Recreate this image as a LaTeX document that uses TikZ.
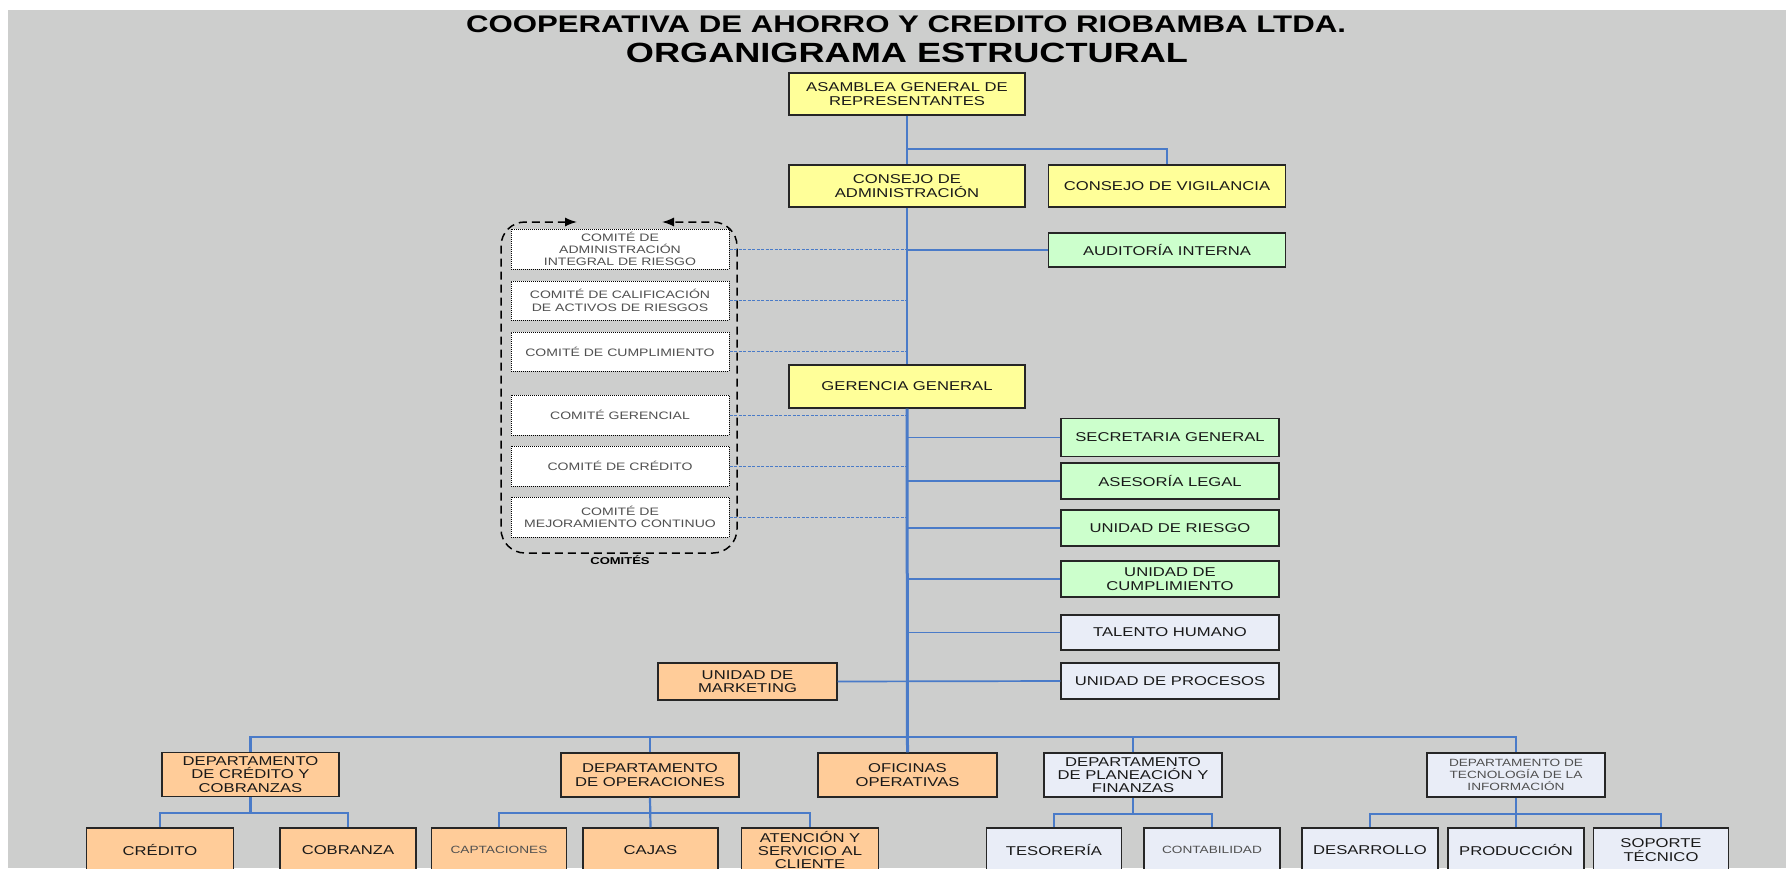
\documentclass[tikz,border=0pt]{standalone}
\usepackage{fontspec}
\setmainfont{Liberation Sans}[FakeStretch=1.3]
\usetikzlibrary{arrows.meta}

\definecolor{bggray}{RGB}{205,206,205}
\definecolor{boxyellow}{RGB}{255,255,153}
\definecolor{boxgreen}{RGB}{204,255,204}
\definecolor{boxlilac}{RGB}{233,237,247}
\definecolor{boxorange}{RGB}{255,204,153}
\definecolor{linkblue}{RGB}{74,123,200}
\definecolor{txtgray}{RGB}{80,80,80}

\tikzset{
  unit/.style={draw=black!85, line width=1.2pt, align=center, inner sep=1pt,
    font=\fontsize{12.8}{13.3}\selectfont, text=black!90},
  dims/.style 2 args={minimum width=#1pt, minimum height=#2pt},
  yellowunit/.style={unit, fill=boxyellow},
  greenunit/.style={unit, fill=boxgreen},
  lilacunit/.style={unit, fill=boxlilac},
  orangeunit/.style={unit, fill=boxorange},
  smalltxt/.style={font=\fontsize{10.5}{12}\selectfont, text=txtgray},
  comite/.style={draw=black, line width=1pt, dash pattern=on 1pt off 1pt,
    fill=white, align=center, inner sep=1pt, minimum width=218pt,
    font=\fontsize{10.8}{12.3}\selectfont, text=txtgray},
  link/.style={draw=linkblue, line width=1.7pt},
  buslink/.style={draw=linkblue, line width=2.2pt},
  comlink/.style={draw=linkblue, line width=1pt, dash pattern=on 3pt off 1.5pt},
}

\begin{document}
\begin{tikzpicture}[x=1pt, y=-1pt]
        % Page and background
        \useasboundingbox (0,0) rectangle (1786,868);
        \clip (0,0) rectangle (1786,868);
        \fill[white] (0,0) rectangle (1786,868);
        \fill[bggray] (8,10) rectangle (1786,868);

        % Titles
        \node[font=\bfseries\fontsize{24}{26}\selectfont] (title1) at (906,24)
          {COOPERATIVA DE AHORRO Y CREDITO RIOBAMBA LTDA.};
        \node[font=\bfseries\fontsize{27.8}{30}\selectfont] (title2) at (907,53)
          {ORGANIGRAMA ESTRUCTURAL};

        % Governing bodies
        \node[yellowunit, dims={236}{42}] (asamblea) at (907,94) {ASAMBLEA GENERAL DE\\REPRESENTANTES};
        \node[yellowunit, dims={236}{42}] (consAdm) at (907,186) {CONSEJO DE\\ADMINISTRACIÓN};
        \node[yellowunit, dims={237}{42}] (consVig) at (1167,186) {CONSEJO DE VIGILANCIA};
        \node[greenunit, dims={237}{34}] (auditoria) at (1167,250) {AUDITORÍA INTERNA};
        \node[yellowunit, dims={236}{43}] (gerencia) at (907,386.5) {GERENCIA GENERAL};

        % Staff units
        \node[greenunit, dims={218}{38}] (secretaria) at (1170,437.5) {SECRETARIA GENERAL};
        \node[greenunit, dims={218}{36}] (asesoria) at (1170,481) {ASESORÍA LEGAL};
        \node[greenunit, dims={218}{36}] (riesgo) at (1170,528) {UNIDAD DE RIESGO};
        \node[greenunit, dims={218}{36}] (cumplim) at (1170,579) {UNIDAD DE\\CUMPLIMIENTO};
        \node[lilacunit, dims={218}{35}] (talento) at (1170,632.5) {TALENTO HUMANO};
        \node[lilacunit, dims={218}{36}] (procesos) at (1170,681) {UNIDAD DE PROCESOS};
        \node[orangeunit, dims={179}{37}] (marketing) at (747.5,681.5) {UNIDAD DE\\MARKETING};

        % Committees
        \node[comite, minimum height=40pt] (com1) at (620,249) {COMITÉ DE\\ADMINISTRACIÓN\\INTEGRAL DE RIESGO};
        \node[comite, minimum height=39pt] (com2) at (620,300.5) {COMITÉ DE CALIFICACIÓN\\DE ACTIVOS DE RIESGOS};
        \node[comite, minimum height=39pt] (com3) at (620,351.5) {COMITÉ DE CUMPLIMIENTO};
        \node[comite, minimum height=40pt] (com4) at (620,415) {COMITÉ GERENCIAL};
        \node[comite, minimum height=40pt] (com5) at (620,466) {COMITÉ DE CRÉDITO};
        \node[comite, minimum height=40pt] (com6) at (620,517) {COMITÉ DE\\MEJORAMIENTO CONTINUO};
        \draw[line width=1.5pt, dash pattern=on 8pt off 5pt, rounded corners=24pt,
          {Latex[length=12pt,width=9pt]}-{Latex[length=12pt,width=9pt]}]
          (577,222) -| (501,553) -| (737,222) -- (662,222);
        \node[font=\bfseries\fontsize{10}{12}\selectfont] (comites) at (620,560) {COMITÉS};

        % Departments
        \node[orangeunit, dims={177}{44}] (depCred) at (250.5,774.5) {DEPARTAMENTO\\DE CRÉDITO Y\\COBRANZAS};
        \node[orangeunit, dims={178}{44}] (depOper) at (650,775) {DEPARTAMENTO\\DE OPERACIONES};
        \node[orangeunit, dims={179}{44}] (oficinas) at (907.5,775) {OFICINAS\\OPERATIVAS};
        \node[lilacunit, dims={178}{44}] (depPlan) at (1133,775) {DEPARTAMENTO\\DE PLANEACIÓN Y\\FINANZAS};
        \node[lilacunit, smalltxt, dims={178}{44}] (depTec) at (1516,775) {DEPARTAMENTO DE\\TECNOLOGÍA DE LA\\INFORMACIÓN};

        % Sections
        \node[orangeunit, dims={147}{44}] (credito) at (160,850) {CRÉDITO};
        \node[orangeunit, dims={136}{44}] (cobranza) at (348,850) {COBRANZA};
        \node[orangeunit, smalltxt, dims={135}{44}] (captac) at (499,850) {CAPTACIONES};
        \node[orangeunit, dims={135}{44}] (cajas) at (650.5,850) {CAJAS};
        \node[orangeunit, dims={137}{44}] (atencion) at (810,850) {ATENCIÓN Y\\SERVICIO AL\\CLIENTE};
        \node[lilacunit, dims={135}{44}] (tesoreria) at (1054,850) {TESORERÍA};
        \node[lilacunit, smalltxt, dims={136}{44}] (contab) at (1212,850) {CONTABILIDAD};
        \node[lilacunit, dims={136}{44}] (desarrollo) at (1370,850) {DESARROLLO};
        \node[lilacunit, dims={136}{44}] (produccion) at (1516,850) {PRODUCCIÓN};
        \node[lilacunit, dims={135}{44}] (soporte) at (1661,850) {SOPORTE\\TÉCNICO};

        % Main line
        \coordinate (split) at (907,149);
        \coordinate (bus) at (907,737);
        \draw[link] (asamblea.south) -- (consAdm.north);
        \draw[link] (split) -| (consVig.north);
        \draw[link, line width=2pt] (consAdm.south) -- (gerencia.north);
        \draw[link, line width=3pt] (gerencia.south) -- (oficinas.north);
        \draw[link] (auditoria.west) -- (auditoria.west -| consAdm.south);
        \foreach \u in {secretaria, asesoria, riesgo, cumplim, talento}
          \draw[link] (\u.west) -- (\u.west -| gerencia.south);
        \draw[link] (marketing.east) -- (procesos.west);
        \foreach \c in {com1, com2, com3, com4, com5, com6}
          \draw[comlink] (\c.east) -- (\c.east -| consAdm.south);

        % Department bus
        \draw[buslink] (depCred.north) |- (bus) -| (depTec.north);
        \draw[buslink] (depOper.north) -- (depOper.north |- bus);
        \draw[buslink] (depPlan.north) -- (depPlan.north |- bus);

        % Section buses
        \draw[buslink] (depCred.south) -- ([yshift=-16pt]depCred.south);
        \draw[buslink] (credito.north) |- ([yshift=-16pt]depCred.south) -| (cobranza.north);
        \draw[buslink] (depOper.south) -- (cajas.north);
        \draw[buslink] (captac.north) |- ([yshift=-15pt]depOper.south) -| (atencion.north);
        \draw[buslink] (depPlan.south) -- ([yshift=-16pt]depPlan.south);
        \draw[buslink] (tesoreria.north) |- ([yshift=-16pt]depPlan.south) -| (contab.north);
        \draw[buslink] (depTec.south) -- (produccion.north);
        \draw[buslink] (desarrollo.north) |- ([yshift=-16pt]depTec.south) -| (soporte.north);
\end{tikzpicture}
\end{document}
